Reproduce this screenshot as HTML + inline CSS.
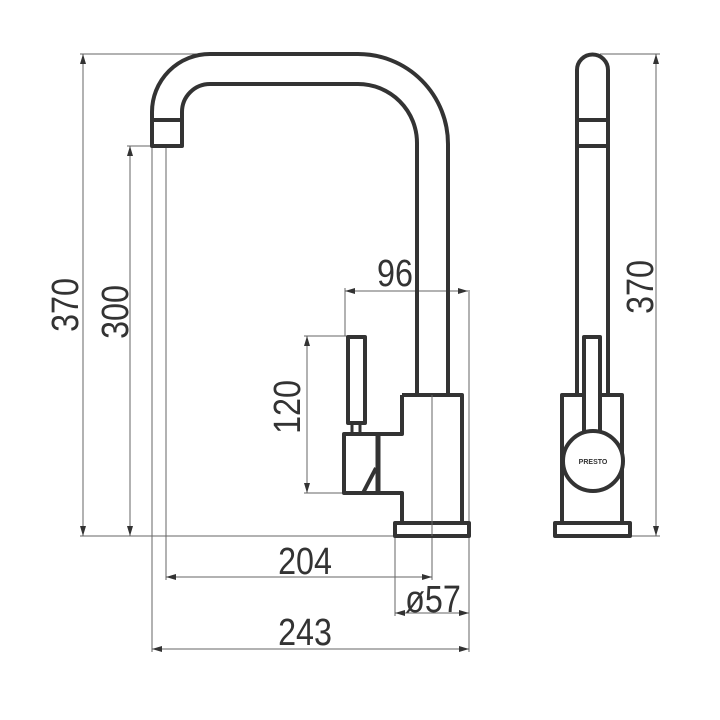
<!DOCTYPE html>
<html><head><meta charset="utf-8"><style>body{margin:0;background:#fff}svg{display:block}</style></head><body>
<svg width="720" height="720" viewBox="0 0 720 720" xmlns="http://www.w3.org/2000/svg">
<defs>
<marker id="a" viewBox="0 0 10 6" refX="10" refY="3" markerWidth="10" markerHeight="6" orient="auto-start-reverse" markerUnits="userSpaceOnUse"><path d="M0,0 L10,3 L0,6 z" fill="#333"/></marker>
</defs>
<g stroke="#666" stroke-width="1" fill="none">
<line x1="80" y1="54" x2="200" y2="54"/>
<line x1="80" y1="536" x2="395" y2="536"/>
<line x1="127" y1="146" x2="152" y2="146"/>
<line x1="152" y1="146" x2="152" y2="652"/>
<line x1="166" y1="146" x2="166" y2="580"/>
<line x1="432" y1="395" x2="432" y2="580"/>
<line x1="395" y1="536" x2="395" y2="616"/>
<line x1="469" y1="290" x2="469" y2="652"/>
<line x1="345" y1="288" x2="345" y2="336"/>
<line x1="304" y1="336" x2="347" y2="336"/>
<line x1="304" y1="493" x2="343" y2="493"/>
<line x1="600" y1="54" x2="660" y2="54"/>
<line x1="630" y1="536" x2="660" y2="536"/>
<line x1="83" y1="54" x2="83" y2="536" marker-start="url(#a)" marker-end="url(#a)"/>
<line x1="130" y1="146" x2="130" y2="536" marker-start="url(#a)" marker-end="url(#a)"/>
<line x1="307" y1="336" x2="307" y2="493" marker-start="url(#a)" marker-end="url(#a)"/>
<line x1="345" y1="291" x2="468" y2="291" marker-start="url(#a)" marker-end="url(#a)"/>
<line x1="166" y1="577" x2="432" y2="577" marker-start="url(#a)" marker-end="url(#a)"/>
<line x1="395" y1="613" x2="469" y2="613" marker-start="url(#a)" marker-end="url(#a)"/>
<line x1="152" y1="649" x2="469" y2="649" marker-start="url(#a)" marker-end="url(#a)"/>
<line x1="656" y1="54" x2="656" y2="536" marker-start="url(#a)" marker-end="url(#a)"/>
</g>
<g stroke="#333" stroke-width="4" fill="none" stroke-linejoin="round">
<path d="M152,146 L152,112 A58,58 0 0 1 210,54 L358,54 A90,90 0 0 1 448,144 L448,395"/>
<path d="M182,146 L182,112 A28,28 0 0 1 210,84 L358,84 A59,59 0 0 1 417,143 L417,395"/>
<rect x="152" y="120" width="30" height="26"/>
<path d="M402,395 L462,395 L462,523 M402,523 L402,493 L378,493 M378,434 L402,434 L402,395"/>
<rect x="344" y="434" width="34" height="59"/>
<line x1="378" y1="434" x2="378" y2="493" stroke-width="5"/>
<path d="M376,468 L363,493"/>
<rect x="348" y="337" width="17" height="86"/>
<rect x="352" y="423" width="8" height="11" stroke-width="3"/>
<rect x="395" y="523" width="74" height="13"/>
<path d="M577,395 L577,70 A15.5,15.5 0 0 1 608,70 L608,395"/>
<line x1="577" y1="120" x2="608" y2="120"/>
<line x1="577" y1="146" x2="608" y2="146"/>
<rect x="562" y="395" width="60" height="128"/>
<rect x="584" y="337" width="16" height="96" fill="#fff"/>
<rect x="588" y="433" width="8" height="8" stroke-width="3" fill="#fff"/>
<circle cx="593" cy="461" r="30" fill="#fff"/>
<rect x="555" y="523" width="75" height="13"/>
</g>
<line x1="432" y1="395" x2="432" y2="536" stroke="#666" stroke-width="1"/>
<g font-family="Liberation Sans, sans-serif" font-size="38" fill="#333" text-anchor="middle">
<text transform="translate(78,305) rotate(-90) scale(0.85,1)">370</text>
<text transform="translate(128,312) rotate(-90) scale(0.85,1)">300</text>
<text transform="translate(300,407) rotate(-90) scale(0.85,1)">120</text>
<text transform="translate(653,287) rotate(-90) scale(0.85,1)">370</text>
<text transform="translate(395,286) scale(0.85,1)">96</text>
<text transform="translate(305,574) scale(0.85,1)">204</text>
<text transform="translate(433,612) scale(0.85,1)">ø57</text>
<text transform="translate(305,645) scale(0.85,1)">243</text>
</g>
<text x="593" y="464" font-family="Liberation Sans, sans-serif" font-size="7" font-weight="bold" fill="#333" text-anchor="middle">PRESTO</text>
</svg>
</body></html>
